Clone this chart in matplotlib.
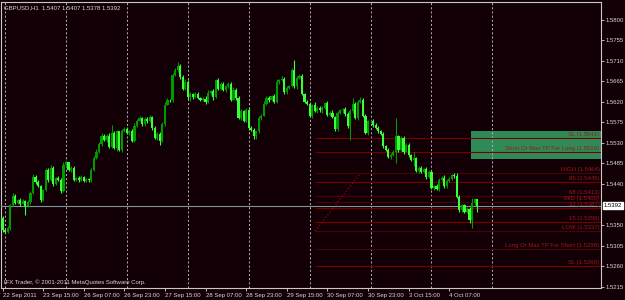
import matplotlib
matplotlib.use("Agg")
import matplotlib.pyplot as plt
from matplotlib.patches import Rectangle

plt.rcParams['font.family'] = ['Liberation Sans', 'DejaVu Sans']

# GBPUSD H1, closes per bar (open = previous close)
first_open = 1.5366
closes = [
    1.5339, 1.5335, 1.5344, 1.5394, 1.5414, 1.5399, 1.5405, 1.5397, 1.5403, 1.5392, 1.5401, 1.5421,
    1.5456, 1.5445, 1.5436, 1.5405, 1.5427, 1.5471, 1.5449, 1.5476, 1.5440, 1.5454, 1.5449, 1.5425,
    1.5482, 1.5487, 1.5471, 1.5476, 1.5449, 1.5454, 1.5449, 1.5456, 1.5447, 1.5451, 1.5449, 1.5471,
    1.5497, 1.5511, 1.5528, 1.5546, 1.5537, 1.5546, 1.5522, 1.5552, 1.5519, 1.5555, 1.5515, 1.5557,
    1.5561, 1.5552, 1.5557, 1.5535, 1.5568, 1.5579, 1.5585, 1.5572, 1.5583, 1.5577, 1.5587, 1.5563,
    1.5541, 1.5550, 1.5535, 1.5572, 1.5614, 1.5625, 1.5623, 1.5679, 1.5690, 1.5699, 1.5675, 1.5649,
    1.5664, 1.5631, 1.5638, 1.5631, 1.5638, 1.5629, 1.5625, 1.5627, 1.5620, 1.5640, 1.5644, 1.5631,
    1.5668, 1.5649, 1.5660, 1.5647, 1.5655, 1.5660, 1.5625, 1.5647, 1.5629, 1.5585, 1.5599, 1.5579,
    1.5603, 1.5563, 1.5559, 1.5544, 1.5555, 1.5585, 1.5590, 1.5616, 1.5629, 1.5625, 1.5633, 1.5620,
    1.5664, 1.5668, 1.5671, 1.5642, 1.5651, 1.5655, 1.5690, 1.5655, 1.5673, 1.5677, 1.5638, 1.5620,
    1.5616, 1.5590, 1.5614, 1.5599, 1.5607, 1.5601, 1.5607, 1.5618, 1.5592, 1.5596, 1.5587, 1.5561,
    1.5596, 1.5601, 1.5605, 1.5594, 1.5566, 1.5599, 1.5616, 1.5585, 1.5620, 1.5625, 1.5590, 1.5552,
    1.5577, 1.5579, 1.5570, 1.5563, 1.5555, 1.5550, 1.5524, 1.5515, 1.5500, 1.5504, 1.5511, 1.5544,
    1.5515, 1.5541, 1.5511, 1.5526, 1.5504, 1.5493, 1.5497, 1.5469, 1.5476, 1.5467, 1.5473, 1.5456,
    1.5467, 1.5431, 1.5436, 1.5429, 1.5449, 1.5454, 1.5436, 1.5447, 1.5451, 1.5460, 1.5458, 1.5412,
    1.5383, 1.5394, 1.5379, 1.5386, 1.5361, 1.5399, 1.5407, 1.5392,
]
# wick lengths in pips above / below the body
hi_ext = [
    3, 2, 4, 3, 6, 3, 2, 4, 3, 2, 3, 4,
    5, 3, 4, 2, 3, 5, 4, 6, 3, 2, 4, 3,
    5, 3, 2, 4, 3, 2, 3, 4, 2, 3, 2, 3,
    4, 5, 3, 6, 4, 3, 5, 18, 4, 3, 2, 4,
    3, 4, 2, 3, 5, 4, 3, 2, 4, 3, 5, 2,
    3, 4, 3, 4, 6, 3, 2, 5, 4, 8, 3, 4,
    5, 3, 4, 2, 3, 4, 2, 3, 5, 6, 3, 4,
    3, 5, 4, 3, 2, 4, 3, 5, 3, 4, 6, 3,
    4, 3, 5, 3, 2, 4, 3, 5, 4, 3, 2, 4,
    5, 3, 6, 4, 3, 2, 5, 22, 3, 4, 3, 2,
    3, 4, 2, 5, 3, 4, 3, 2, 4, 3, 5, 3,
    4, 3, 2, 4, 3, 5, 12, 4, 3, 6, 3, 4,
    3, 2, 4, 3, 5, 3, 4, 2, 3, 4, 3, 40,
    4, 3, 5, 4, 3, 2, 12, 3, 4, 3, 2, 4,
    3, 4, 2, 3, 5, 4, 6, 3, 4, 2, 3, 5,
    4, 3, 2, 4, 3, 10, 3, 0,
]
lo_ext = [
    4, 3, 2, 5, 3, 4, 3, 6, 2, 20, 3, 4,
    3, 5, 2, 4, 3, 2, 4, 3, 5, 3, 2, 4,
    3, 4, 2, 5, 3, 2, 4, 3, 2, 3, 5, 4,
    3, 2, 3, 4, 3, 5, 4, 3, 2, 6, 3, 4,
    4, 2, 5, 3, 4, 3, 2, 4, 5, 3, 2, 4,
    3, 5, 10, 3, 4, 2, 3, 4, 3, 5, 4, 3,
    3, 5, 10, 4, 3, 2, 4, 3, 5, 3, 4, 6,
    3, 4, 2, 3, 5, 4, 3, 2, 4, 3, 5, 4,
    3, 4, 2, 5, 6, 3, 4, 2, 3, 5, 4, 3,
    2, 4, 3, 5, 4, 3, 2, 4, 6, 3, 4, 3,
    4, 3, 5, 2, 4, 3, 6, 3, 4, 2, 3, 5,
    4, 3, 6, 4, 3, 30, 4, 3, 5, 2, 4, 3,
    4, 3, 5, 2, 4, 3, 6, 3, 4, 5, 3, 25,
    4, 3, 5, 2, 4, 3, 14, 3, 6, 4, 3, 5,
    4, 3, 5, 2, 4, 3, 5, 4, 3, 2, 4, 3,
    5, 4, 3, 2, 6, 18, 6, 14,
]

time_ticks = [0, 16, 32, 48, 64, 80, 96, 112, 128, 144, 160, 176]
time_labels = ['22 Sep 2011', '23 Sep 15:00', '26 Sep 07:00', '26 Sep 23:00',
               '27 Sep 15:00', '28 Sep 07:00', '28 Sep 23:00', '29 Sep 15:00',
               '30 Sep 07:00', '30 Sep 23:00', '3 Oct 15:00', '4 Oct 07:00']
day_starts = [1, 25, 49, 73, 97, 121, 145, 169, 193]
price_ticks = [1.5800, 1.5755, 1.5710, 1.5665, 1.5620, 1.5575, 1.5530,
               1.5485, 1.5440, 1.5350, 1.5305, 1.5260, 1.5215]

level_names = ['SL', 'Short Or Max TP For Long', 'HIGH', '85', '68', 'MID',
               '32', '15', 'LOW', 'Long Or Max TP For Short', 'SL']
level_prices = [1.5541, 1.5510, 1.5464, 1.5445, 1.5413, 1.5400,
                1.5387, 1.5356, 1.5337, 1.5298, 1.5260]
level_strong = [True, True, False, True, False, False, True, True, False, False, True]
level_start = 123.2
zone_top, zone_bottom, zone_start = 1.5557, 1.5495, 184.6
bid = 1.5392

bg = '#120006'
fg = '#d8d8d8'
bull_col = '#009a00'
bear_col = '#3cff3c'

fig = plt.figure(figsize=(6.25, 3.0), dpi=100, facecolor=bg)
ax = fig.add_axes([1.5 / 625, 12 / 300, 599.5 / 625, 286.5 / 300], facecolor=bg)

# green zone
ax.add_patch(Rectangle((zone_start, zone_bottom), 300, zone_top - zone_bottom,
                       facecolor='#2e8b57', edgecolor='none', zorder=1))

# day separators
for d in day_starts:
    ax.axvline(d, color='#a8a8a8', lw=0.75, dashes=(2, 2), zorder=2)

# fib levels
for name, p, strong in zip(level_names, level_prices, level_strong):
    ax.hlines(p, level_start, 300, color='#7a0000' if strong else '#4c0008', lw=0.8, zorder=2)
    ax.text(235.2, p + 0.0002, f'{name} ({p:.4f})', color='#9a1a1a', fontsize=4.3,
            ha='right', va='bottom', zorder=5)

# fib trend line LOW -> HIGH
ax.plot([level_start, 141.0], [1.5337, 1.5464], color='#c00000', lw=0.8,
        ls=(0, (1, 2)), zorder=2)

# bid line
ax.axhline(bid, color='#7e9696', lw=0.8, zorder=3)

# candles
opens = [first_open] + closes[:-1]
for i, (o, c) in enumerate(zip(opens, closes)):
    col = bull_col if c > o else bear_col
    hi = max(o, c) + hi_ext[i] * 0.0001
    lo = min(o, c) - lo_ext[i] * 0.0001
    ax.vlines(i, lo, hi, color=col, lw=0.8, zorder=4)
    ax.bar(i, max(abs(c - o), 0.00008), bottom=min(o, c), width=0.85,
           color=col, linewidth=0, zorder=4)

ax.set_xlim(-0.4, 235.8)
ax.set_ylim(1.52119, 1.58399)

ax.set_xticks(time_ticks)
ax.set_xticklabels(time_labels, ha='left')
ax.yaxis.tick_right()
ax.set_yticks(price_ticks)
ax.set_yticklabels([f'{p:.4f}' for p in price_ticks])
ax.tick_params(colors=fg, labelcolor=fg, labelsize=4.3, length=2, width=0.6, pad=1.5)
for s in ax.spines.values():
    s.set_color('#c8c8c8')
    s.set_linewidth(0.8)

# current price marker
ax.text(1.004, bid, '1.5392', transform=ax.get_yaxis_transform(), fontsize=4.3,
        color='black', va='center', ha='left',
        bbox=dict(boxstyle='square,pad=0.15', facecolor='white', edgecolor='white'))

ax.text(0.004, 0.988, 'GBPUSD,H1  1.5407 1.5407 1.5378 1.5392', transform=ax.transAxes,
        color=fg, fontsize=4.3, va='top', ha='left')
ax.text(0.004, 0.012, 'IFX Trader, \u00a9 2001-2011 MetaQuotes Software Corp.',
        transform=ax.transAxes, color=fg, fontsize=4.3, va='bottom', ha='left')

fig.savefig('out.png', dpi=100, facecolor=bg)
